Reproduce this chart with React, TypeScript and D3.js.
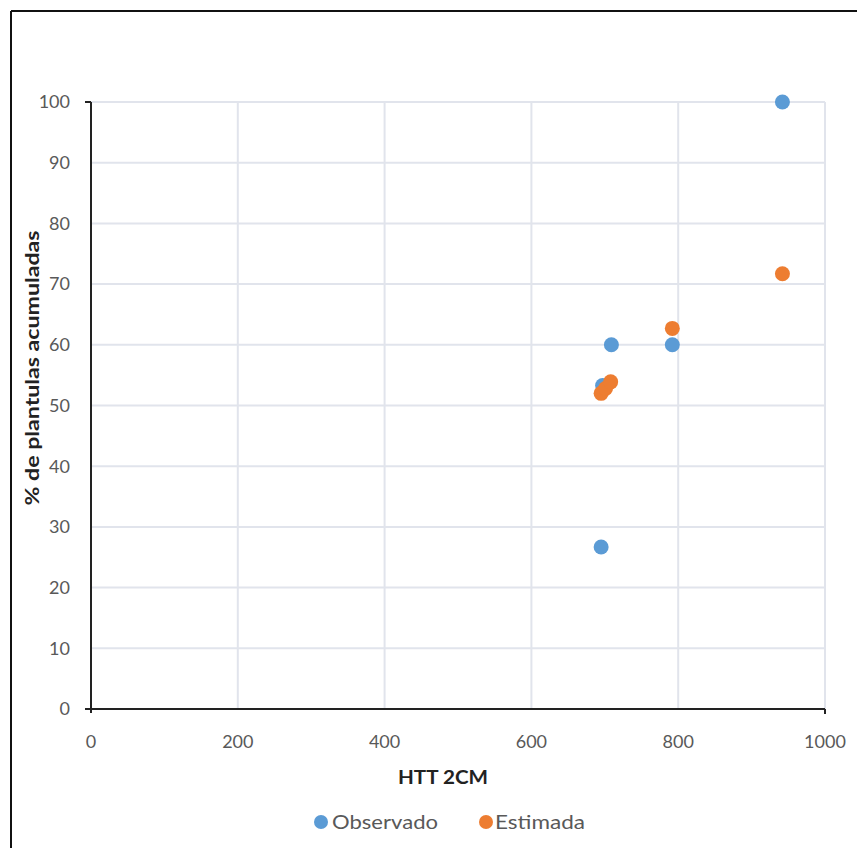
import React from "react";
import * as d3 from "d3";

// Observed and estimated accumulated seedlings vs thermal time
const observadoX = [695, 697, 709, 792, 942];
const observadoY = [26.7, 53.3, 60, 60, 100];
const estimadaX = [695, 701, 708, 792, 942];
const estimadaY = [52.0, 52.8, 53.9, 62.7, 71.7];

const xTicks = [0, 200, 400, 600, 800, 1000];
const yTicks = [0, 10, 20, 30, 40, 50, 60, 70, 80, 90, 100];

const seriesNames = ["Observado", "Estimada"];
const seriesColors = ["#5b9bd5", "#ed7d31"];

const W = 857;
const H = 848;
const plot = { left: 91, right: 825, top: 102, bottom: 709 };
const FONT = "Lato, 'Open Sans', sans-serif";

export default function App() {
  const x = d3.scaleLinear().domain([0, 1000]).range([plot.left, plot.right]);
  const y = d3.scaleLinear().domain([0, 100]).range([plot.bottom, plot.top]);

  const obs = observadoX.map((v, i) => ({ x: v, y: observadoY[i] }));
  const est = estimadaX.map((v, i) => ({ x: v, y: estimadaY[i] }));

  const legend = [
    { cx: 321, tx: 332, len: 106 },
    { cx: 486, tx: 495, len: 90 },
  ];

  return (
    <svg
      width={W}
      height={H}
      style={{ position: "absolute", left: 0, top: 0, background: "#fff" }}
      fontFamily={FONT}
    >
      {/* outer frame */}
      <line x1={11} y1={11} x2={W} y2={11} stroke="#111" strokeWidth={2} />
      <line x1={11} y1={11} x2={11} y2={H} stroke="#111" strokeWidth={2} />

      {/* gridlines */}
      {yTicks.map((t) => (
        <line key={"gy" + t} x1={plot.left} x2={plot.right} y1={y(t)} y2={y(t)} stroke="#e1e4ec" strokeWidth={2} />
      ))}
      {xTicks.map((t) => (
        <line key={"gx" + t} x1={x(t)} x2={x(t)} y1={plot.top} y2={plot.bottom} stroke="#e1e4ec" strokeWidth={2} />
      ))}

      {/* axes */}
      <line x1={plot.left} x2={plot.left} y1={plot.top} y2={plot.bottom + 4} stroke="#222" strokeWidth={2} />
      <line x1={plot.left - 6} x2={plot.left} y1={plot.top} y2={plot.top} stroke="#222" strokeWidth={2} />
      <line x1={plot.left - 6} x2={plot.right} y1={plot.bottom} y2={plot.bottom} stroke="#222" strokeWidth={2} />
      <line x1={plot.right} x2={plot.right} y1={plot.bottom} y2={plot.bottom + 5} stroke="#222" strokeWidth={2} />

      {/* tick labels */}
      {yTicks.map((t) => (
        <text key={"ty" + t} x={70} y={y(t)} dy="0.35em" textAnchor="end" fontSize={18} fill="#595959">
          {t}
        </text>
      ))}
      {xTicks.map((t) => (
        <text key={"tx" + t} x={x(t)} y={742} dy="0.35em" textAnchor="middle" fontSize={18} fill="#595959">
          {t}
        </text>
      ))}

      {/* axis titles */}
      <text
        x={443}
        y={777}
        dy="0.35em"
        textAnchor="middle"
        fontSize={19}
        fontWeight="bold"
        fill="#222"
        textLength={90}
        lengthAdjust="spacingAndGlyphs"
      >
        HTT 2CM
      </text>
      <text
        transform="translate(32, 368) rotate(-90)"
        textAnchor="middle"
        dy="0.35em"
        fontSize={19}
        fontWeight="bold"
        fill="#222"
        textLength={275}
        lengthAdjust="spacingAndGlyphs"
      >
        % de plantulas  acumuladas
      </text>

      {/* points */}
      {obs.map((d, i) => (
        <circle key={"o" + i} cx={x(d.x)} cy={y(d.y)} r={7.5} fill={seriesColors[0]} />
      ))}
      {est.map((d, i) => (
        <circle key={"e" + i} cx={x(d.x)} cy={y(d.y)} r={7.5} fill={seriesColors[1]} />
      ))}

      {/* legend */}
      {seriesNames.map((name, i) => (
        <g key={name}>
          <circle cx={legend[i].cx} cy={822} r={7} fill={seriesColors[i]} />
          <text
            x={legend[i].tx}
            y={822}
            dy="0.35em"
            fontSize={20}
            fill="#595959"
            textLength={legend[i].len}
            lengthAdjust="spacingAndGlyphs"
          >
            {name}
          </text>
        </g>
      ))}
    </svg>
  );
}
